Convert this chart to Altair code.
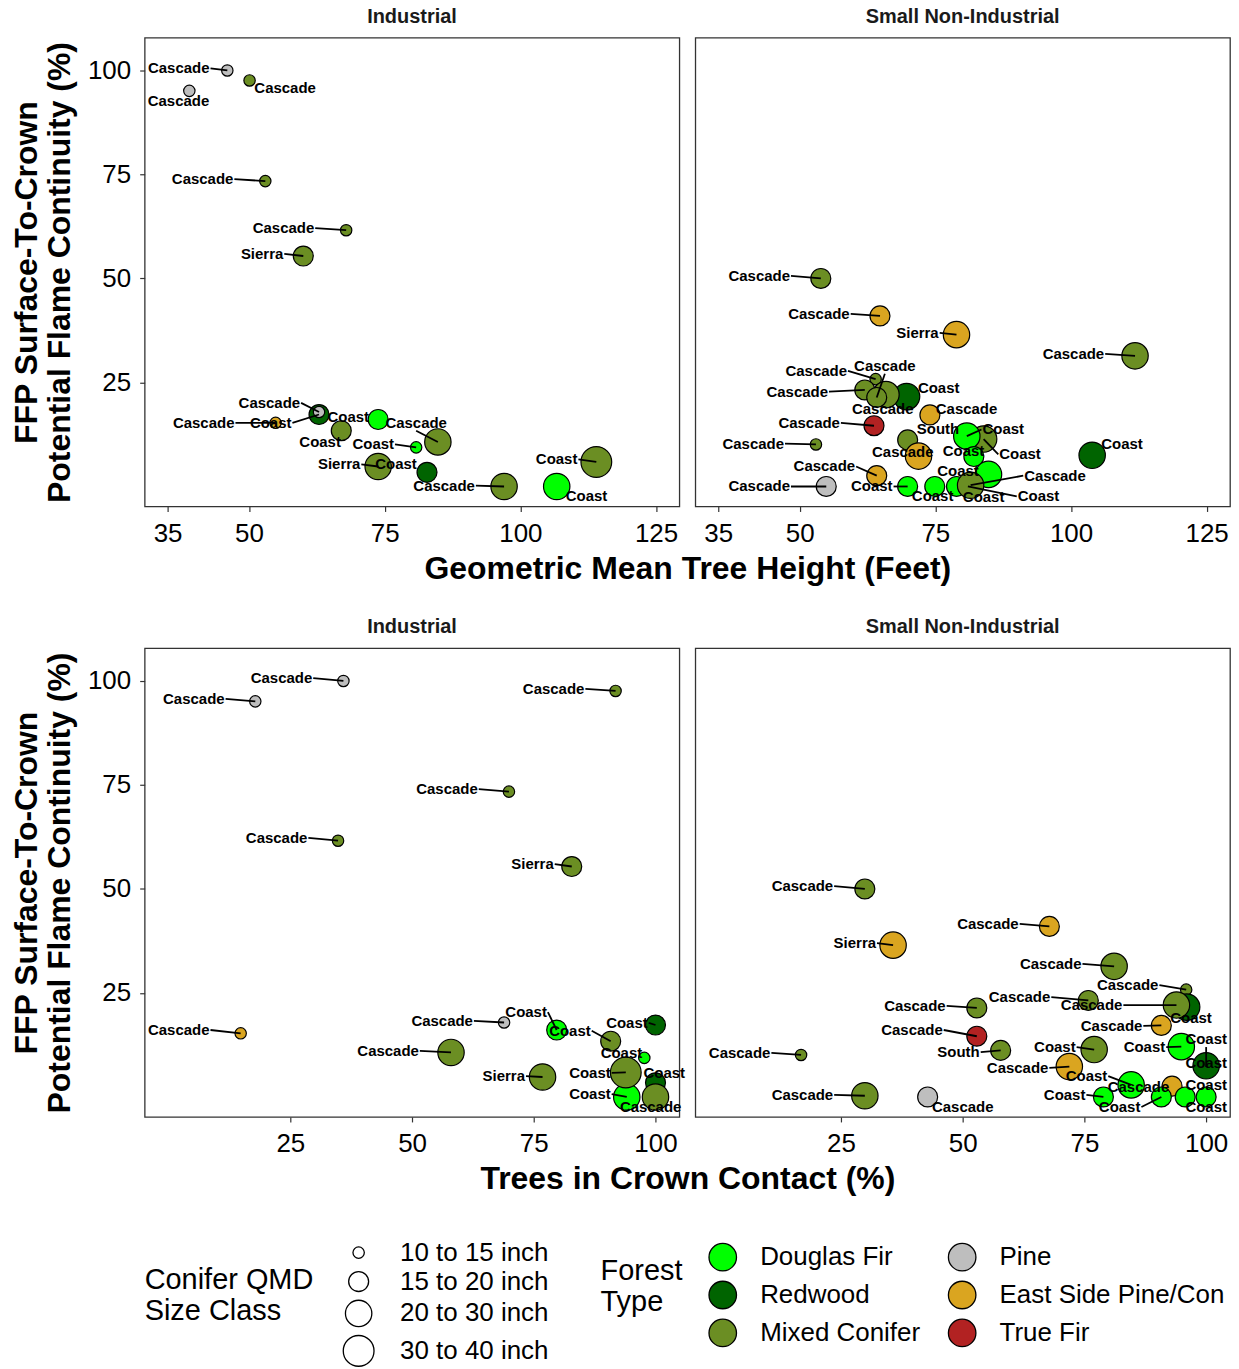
import altair as alt
import pandas as pd

# ---------------- categories ----------------
TYPE_NAMES = {"DF": "Douglas Fir", "RW": "Redwood", "MC": "Mixed Conifer",
              "PI": "Pine", "ES": "East Side Pine/Con", "TF": "True Fir"}
type_order = ["Douglas Fir", "Redwood", "Mixed Conifer", "Pine", "East Side Pine/Con", "True Fir"]
type_colors = ["#00FF00", "#006400", "#6B8E23", "#BEBEBE", "#DAA520", "#B22222"]
QMD_NAMES = {"S": "10 to 15 inch", "M": "15 to 20 inch", "L": "20 to 30 inch", "X": "30 to 40 inch"}
qmd_order = ["10 to 15 inch", "15 to 20 inch", "20 to 30 inch", "30 to 40 inch"]

# ---------------- Industrial ----------------
ind_type = ["PI", "MC", "PI", "MC", "MC", "MC", "ES", "RW", "PI", "DF", "MC", "MC", "DF", "MC", "RW", "MC", "DF", "MC"]
ind_qmd = ["S", "S", "S", "S", "S", "M", "S", "M", "S", "M", "M", "L", "S", "L", "M", "L", "L", "X"]
ind_region = ["Cascade", "Cascade", "Cascade", "Cascade", "Cascade", "Sierra", "Cascade", "Coast", "Cascade",
              "Coast", "Coast", "Cascade", "Coast", "Sierra", "Coast", "Cascade", "Coast", "Coast"]
ind_height = [46.0, 50.1, 39.0, 53.0, 67.9, 60.0, 54.9, 62.9, 62.9, 73.8, 67.0, 84.8, 80.8, 73.8, 82.8, 97.0, 106.7, 114.0]
ind_crown = [35.9, 91.8, 17.8, 69.9, 34.8, 82.8, 14.8, 100.0, 68.9, 79.7, 90.8, 58.0, 97.7, 76.8, 100.0, 100.0, 94.1, 93.9]
ind_ffp = [100.0, 97.6, 95.1, 73.4, 61.6, 55.4, 15.3, 17.3, 17.9, 16.1, 13.4, 10.7, 9.4, 4.8, 3.4, 0.0, 0.0, 5.9]

# repelled label anchors (data units), side, leader line
ind_height_labels = [(42.9, 100.5, "r", 1), (50.8, 95.7, "l", 0), (37.0, 92.6, "c", 0), (47.3, 73.9, "r", 1),
                     (62.2, 62.1, "r", 1), (56.5, 55.9, "r", 1), (47.5, 15.3, "r", 1), (58.0, 15.3, "r", 1),
                     (59.6, 20.1, "r", 1), (72.3, 16.8, "r", 0), (63.1, 10.6, "c", 0), (80.8, 13.4, "a", 1),
                     (76.9, 10.1, "r", 1), (70.7, 5.3, "r", 1), (81.1, 5.3, "r", 0), (91.8, 0.2, "r", 1),
                     (112.2, -2.4, "c", 0), (110.7, 6.5, "r", 1)]
ind_crown_labels = [(29.7, 100.7, "r", 1), (85.6, 98.1, "r", 1), (11.7, 95.7, "r", 1), (63.7, 74.0, "r", 1),
                    (28.7, 62.3, "r", 1), (79.3, 56.0, "r", 1), (8.6, 16.1, "r", 1), (98.6, 17.8, "r", 1),
                    (62.7, 18.3, "r", 1), (77.9, 20.4, "r", 1), (86.9, 15.9, "r", 1), (51.6, 11.1, "r", 1),
                    (93.0, 10.6, "c", 0), (73.4, 5.0, "r", 1), (101.8, 5.8, "c", 0), (99.0, -2.4, "c", 0),
                    (91.0, 0.7, "r", 1), (91.0, 5.8, "r", 1)]

# ---------------- Small Non-Industrial ----------------
sni_type = ["MC", "ES", "ES", "MC", "MC", "MC", "RW", "MC", "MC", "ES", "TF", "MC", "MC", "MC", "ES", "DF",
            "DF", "RW", "DF", "ES", "DF", "DF", "DF", "DF", "MC", "PI"]
sni_qmd = ["M", "M", "L", "L", "S", "M", "L", "L", "M", "M", "M", "S", "M", "L", "L", "L",
           "M", "L", "L", "M", "M", "M", "M", "M", "L", "M"]
sni_region = ["Cascade", "Cascade", "Sierra", "Cascade", "Cascade", "Cascade", "Coast", "Cascade", "Cascade",
              "Cascade", "Cascade", "Cascade", "South", "Coast", "Cascade", "Coast", "Coast", "Coast", "Coast",
              "Cascade", "Coast", "Coast", "Coast", "Coast", "Cascade", "Cascade"]
sni_height = [53.9, 64.8, 78.9, 111.8, 64.0, 62.0, 69.7, 65.9, 64.2, 74.0, 63.7, 53.0, 69.9, 83.9, 71.9, 80.8,
              82.1, 103.9, 84.8, 64.2, 69.9, 74.9, 78.9, 81.0, 81.5, 54.9]
sni_crown = [29.9, 67.8, 35.7, 81.1, 95.9, 75.8, 96.0, 93.9, 52.9, 90.8, 52.9, 16.8, 57.8, 77.0, 71.9, 94.9,
             100.0, 100.0, 84.6, 93.0, 78.9, 90.8, 95.7, 100.0, 29.9, 42.8]
sni_ffp = [50.0, 41.0, 36.5, 31.4, 25.8, 23.2, 21.6, 22.1, 21.4, 17.2, 14.6, 10.1, 11.2, 11.4, 7.3, 12.1,
           7.2, 7.5, 2.9, 2.6, 0.0, 0.0, 0.0, 0.0, 0.3, 0.0]

sni_height_labels = [(48.4, 50.6, "r", 1), (59.4, 41.5, "r", 1), (75.8, 36.9, "r", 1), (106.3, 31.9, "r", 1),
                     (58.9, 27.8, "r", 1), (55.4, 22.8, "r", 1), (71.6, 23.7, "l", 0), (65.3, 18.7, "c", 0),
                     (65.7, 27.1, "a", 1), (74.9, 18.7, "l", 0), (57.6, 15.3, "r", 1), (47.3, 10.3, "r", 1),
                     (71.4, 13.9, "l", 0), (86.6, 7.7, "l", 1), (69.0, 8.4, "c", 0), (83.5, 13.7, "l", 1),
                     (80.2, 8.6, "c", 0), (105.4, 10.3, "l", 0), (83.2, 3.6, "r", 0), (60.4, 4.8, "r", 1),
                     (67.3, 0.0, "r", 1), (74.5, -2.4, "c", 0), (83.9, -2.6, "c", 0), (90.0, -2.4, "l", 1),
                     (91.2, 2.6, "l", 1), (48.4, 0.0, "r", 1)]
sni_crown_labels = [(23.6, 50.7, "r", 1), (61.7, 41.6, "r", 1), (32.4, 37.0, "r", 1), (74.6, 32.0, "r", 1),
                    (90.4, 26.9, "r", 1), (68.2, 24.0, "r", 1), (96.9, 19.0, "c", 0), (83.0, 22.1, "r", 1),
                    (46.7, 21.9, "r", 1), (87.1, 17.1, "r", 1), (46.1, 16.1, "r", 1), (10.7, 10.6, "r", 1),
                    (53.7, 10.8, "r", 1), (73.4, 12.0, "r", 1), (67.8, 7.0, "r", 1), (91.8, 12.0, "r", 1),
                    (100.0, 12.0, "a", 1), (100.0, 8.2, "c", 0), (79.9, 5.0, "r", 1), (86.1, 2.4, "c", 0),
                    (75.4, 0.5, "r", 1), (86.7, -2.4, "r", 1), (100.0, 2.9, "c", 0), (100.0, -2.4, "c", 0),
                    (23.6, 0.5, "r", 1), (50.0, -2.4, "c", 0)]

height_ticks = [35, 50, 75, 100, 125]
crown_ticks = [25, 50, 75, 100]
ffp_ticks = [25, 50, 75, 100]

FONT = "Liberation Sans"
Y_TITLE = ["FFP Surface-To-Crown", "Potential Flame Continuity (%)"]
HEIGHT_DOMAIN = [30.77, 129.3]
CROWN_DOMAIN = [-4.92, 104.9]
FFP_DOMAIN = [-4.8, 107.9]
PANEL_W, PANEL_H, GAP = 536, 470, 16


def frame(types, qmds, regions, xs, ffp, labels):
    rows = []
    for i in range(len(xs)):
        lx, ly, al, seg = labels[i]
        rows.append(dict(order=i, type=TYPE_NAMES[types[i]], qmd=QMD_NAMES[qmds[i]], region=regions[i],
                         hx=xs[i], ffp=ffp[i], lx=lx, ly=ly, al=al, seg=seg))
    return pd.DataFrame(rows)


color_legend = alt.Legend(title=["Forest", "Type"], orient="none", legendX=457, legendY=1208,
                          columns=2, symbolSize=760, symbolType="circle", symbolStrokeColor="black",
                          symbolStrokeWidth=1.3, symbolOpacity=1, columnPadding=25, rowPadding=5,
                          labelOffset=23, titlePadding=25)
size_legend = alt.Legend(title=["Conifer QMD", "Size Class"], orient="none", legendX=0, legendY=1205,
                         symbolType="circle", symbolFillColor="white", symbolStrokeColor="black",
                         symbolStrokeWidth=1.3, symbolOpacity=1, rowPadding=3, labelOffset=25,
                         titlePadding=28)

TEXT_SPECS = {"r": ("right", "middle", -1), "l": ("left", "middle", 1), "c": ("center", "middle", 0),
              "a": ("center", "bottom", 0), "b": ("center", "top", 0)}


def panel(df, xdom, xticks, strip, show_y, xtitle):
    xs = alt.Scale(domain=xdom, nice=False, zero=False)
    ys = alt.Scale(domain=FFP_DOMAIN, nice=False, zero=False)
    if xtitle:
        xaxis = alt.Axis(values=xticks, title=xtitle, grid=False, domain=False,
                         titleX=PANEL_W + GAP / 2, titleY=62, titleAlign="center",
                         titleBaseline="middle", titleAnchor="middle")
    else:
        xaxis = alt.Axis(values=xticks, title=None, grid=False, domain=False)
    yaxis = alt.Axis(values=ffp_ticks, title=Y_TITLE, grid=False, domain=False) if show_y else None
    base = alt.Chart(df)
    pts = base.mark_circle(stroke="black", strokeWidth=1.2, opacity=1).encode(
        x=alt.X("hx:Q", scale=xs, axis=xaxis),
        y=alt.Y("ffp:Q", scale=ys, axis=yaxis),
        fill=alt.Fill("type:N", scale=alt.Scale(domain=type_order, range=type_colors), legend=color_legend),
        size=alt.Size("qmd:O", scale=alt.Scale(type="ordinal", domain=qmd_order, range=[130, 400, 700, 950]),
                      legend=size_legend),
        order=alt.Order("order:Q"),
    )
    seg = base.transform_filter("datum.seg == 1").mark_rule(color="black", strokeWidth=1.8).encode(
        x=alt.X("hx:Q", scale=xs, axis=xaxis),
        y=alt.Y("ffp:Q", scale=ys, axis=yaxis),
        x2="lx:Q", y2="ly:Q",
    )
    layers = [pts, seg]
    for code, (align, baseline, dx) in TEXT_SPECS.items():
        layers.append(
            base.transform_filter(f"datum.al == '{code}'").mark_text(
                align=align, baseline=baseline, dx=dx, font=FONT, fontSize=15, fontWeight="bold", color="black"
            ).encode(
                x=alt.X("lx:Q", scale=xs, axis=xaxis),
                y=alt.Y("ly:Q", scale=ys, axis=yaxis),
                text="region:N",
            )
        )
    return alt.layer(*layers).properties(
        width=PANEL_W, height=PANEL_H,
        title=alt.TitleParams(strip, fontSize=20, fontWeight="bold", color="#1a1a1a", font=FONT,
                              anchor="middle", offset=11),
    )


ind_h = frame(ind_type, ind_qmd, ind_region, ind_height, ind_ffp, ind_height_labels)
ind_c = frame(ind_type, ind_qmd, ind_region, ind_crown, ind_ffp, ind_crown_labels)
sni_h = frame(sni_type, sni_qmd, sni_region, sni_height, sni_ffp, sni_height_labels)
sni_c = frame(sni_type, sni_qmd, sni_region, sni_crown, sni_ffp, sni_crown_labels)

row1 = alt.hconcat(
    panel(ind_h, HEIGHT_DOMAIN, height_ticks, "Industrial", True, "Geometric Mean Tree Height (Feet)"),
    panel(sni_h, HEIGHT_DOMAIN, height_ticks, "Small Non-Industrial", False, None),
    spacing=GAP, bounds="flush",
).resolve_scale(x="independent")

row2 = alt.hconcat(
    panel(ind_c, CROWN_DOMAIN, crown_ticks, "Industrial", True, "Trees in Crown Contact (%)"),
    panel(sni_c, CROWN_DOMAIN, crown_ticks, "Small Non-Industrial", False, None),
    spacing=GAP, bounds="flush",
).resolve_scale(x="independent")

chart = alt.vconcat(row1, row2, spacing=31).resolve_scale(x="independent").properties(
    padding={"left": 1, "top": -4, "right": 0, "bottom": 0}
).configure(font=FONT).configure_axis(
    labelFont=FONT, labelFontSize=26, labelColor="black", tickColor="#333333", tickSize=5, tickWidth=1.2,
    titleFont=FONT, titleFontSize=32, titleFontWeight="bold", titleColor="black",
).configure_axisX(labelPadding=9).configure_axisY(
    labelPadding=9, titlePadding=11, titleLineHeight=33
).configure_view(stroke="#333333", strokeWidth=1.3).configure_legend(
    labelFont=FONT, labelFontSize=26, labelColor="black", titleFont=FONT, titleFontSize=29,
    titleFontWeight="normal", titleColor="black", titleOrient="left", titleAnchor="middle",
    titleBaseline="alphabetic", titleLineHeight=32, titleLimit=400, labelLimit=400,
)

chart.save("out.html", embed_options={"renderer": "svg", "actions": False})
